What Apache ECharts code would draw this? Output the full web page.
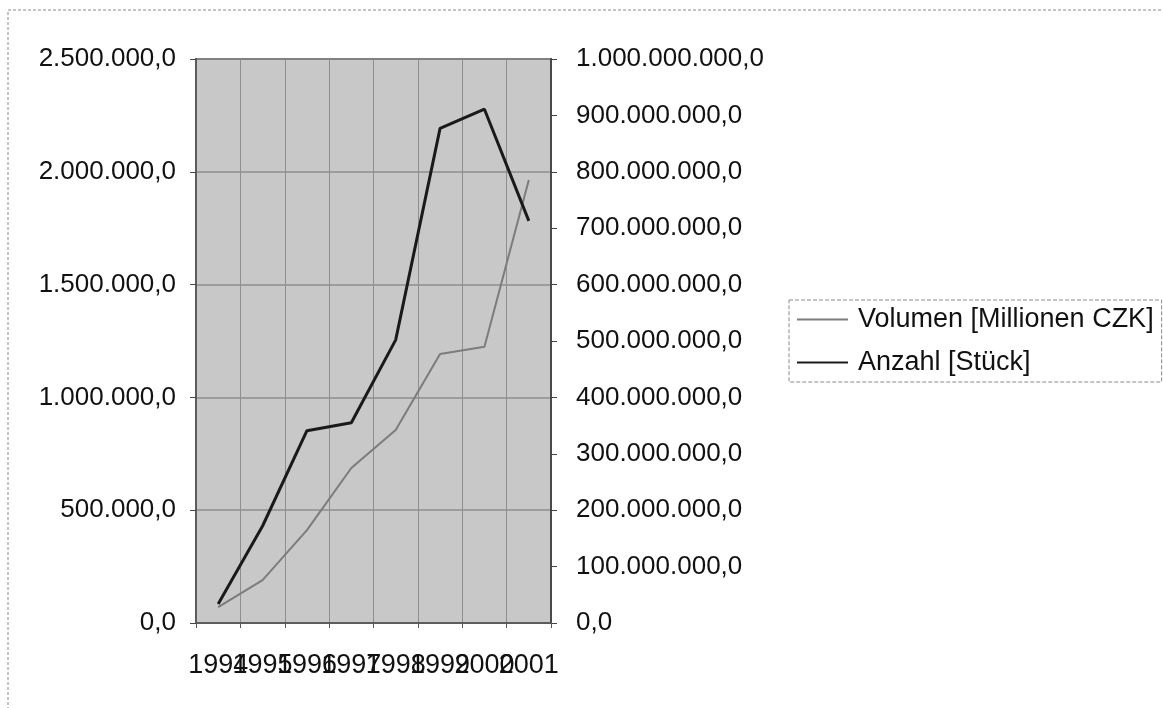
<!DOCTYPE html>
<html>
<head>
<meta charset="utf-8">
<script src="https://cdn.jsdelivr.net/npm/echarts@6/dist/echarts.min.js"></script>
<style>
html,body{margin:0;padding:0;background:#fff;}
#c{width:1163px;height:708px;}
</style>
</head>
<body>
<div id="c"></div>
<script>
const years = ['1994','1995','1996','1997','1998','1999','2000','2001'];
const volumen = [70000, 190000, 412000, 687000, 855000, 1192000, 1225000, 1964000];
const anzahl = [33700000, 172000000, 341000000, 355000000, 502000000, 877000000, 911000000, 713000000];
const seriesNames = ['Volumen [Millionen CZK]', 'Anzahl [Stück]'];

function fmt(v){
  const s = Number(v).toFixed(1);
  const parts = s.split('.');
  return parts[0].replace(/\B(?=(\d{3})+(?!\d))/g, '.') + ',' + parts[1];
}

const FONT = "'Liberation Sans', Arial, sans-serif";
const chart = echarts.init(document.getElementById('c'), null, {renderer:'canvas'});
chart.setOption({
  animation: false,
  backgroundColor: '#ffffff',
  textStyle: {fontFamily: FONT},
  graphic: [{
    type: 'rect',
    shape: {x: 8, y: 10, width: 1200, height: 760},
    style: {fill: 'none', stroke: '#8a8a8a', lineWidth: 1, lineDash: [3, 2]},
    silent: true, z: -1
  }],
  grid: {
    left: 196, right: 1163 - 551, top: 59, bottom: 708 - 623,
    show: true, backgroundColor: '#c8c8c8', borderColor: '#5c5c5c', borderWidth: 2
  },
  legend: {
    orient: 'vertical', left: 789, top: 300,
    padding: [6, 8, 6, 8], itemGap: 16, itemWidth: 51, itemHeight: 2,
    icon: 'rect',
    borderColor: '#8a8a8a', borderWidth: 1, borderType: 'dashed',
    textStyle: {fontSize: 27, color: '#111', fontFamily: FONT, padding: [0, 0, 0, 5]},
    data: seriesNames
  },
  xAxis: {
    type: 'category', data: years, boundaryGap: true,
    axisLine: {show: true, lineStyle: {color: '#5c5c5c', width: 2}},
    axisTick: {show: true, length: 5, lineStyle: {color: '#555'}},
    axisLabel: {interval: 0, fontSize: 27, color: '#111', margin: 29, fontFamily: FONT},
    splitLine: {show: true, lineStyle: {color: '#8e8e8e', width: 1}}
  },
  yAxis: [{
    type: 'value', min: 0, max: 2500000, interval: 500000, position: 'left',
    axisLine: {show: true, lineStyle: {color: '#5c5c5c', width: 2}},
    axisTick: {show: true, length: 6, lineStyle: {color: '#444'}},
    axisLabel: {fontSize: 26, color: '#111', margin: 20, formatter: fmt, fontFamily: FONT},
    splitLine: {show: true, lineStyle: {color: '#8e8e8e', width: 1.5}}
  }, {
    type: 'value', min: 0, max: 1000000000, interval: 100000000, position: 'right',
    axisLine: {show: true, lineStyle: {color: '#4a4a4a', width: 2}},
    axisTick: {show: true, length: 6, lineStyle: {color: '#444'}},
    axisLabel: {fontSize: 26, color: '#111', margin: 25, formatter: fmt, fontFamily: FONT},
    splitLine: {show: false}
  }],
  series: [{
    name: seriesNames[0], type: 'line', yAxisIndex: 0, data: volumen,
    symbol: 'none', lineStyle: {color: '#7c7c7c', width: 2}, itemStyle: {color: '#7c7c7c'}
  }, {
    name: seriesNames[1], type: 'line', yAxisIndex: 1, data: anzahl,
    symbol: 'none', lineStyle: {color: '#1a1a1a', width: 3}, itemStyle: {color: '#1a1a1a'}
  }]
});
</script>
</body>
</html>
